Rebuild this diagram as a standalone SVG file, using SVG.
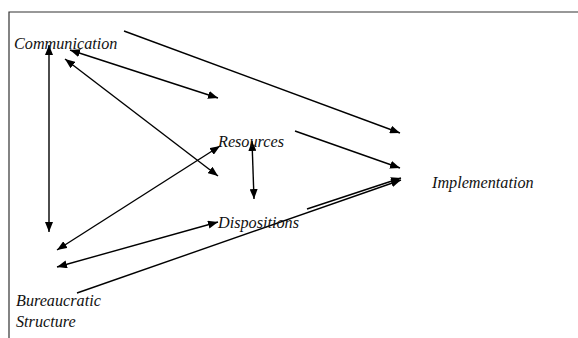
<svg xmlns="http://www.w3.org/2000/svg" width="578" height="338" viewBox="0 0 578 338">
<defs>
<style>
.lbl{font-family:"Liberation Serif","Times New Roman",serif;font-style:italic;font-size:16.2px;fill:#111;}
.ln{stroke:#000;stroke-width:1.4;fill:none;}
.a1{marker-end:url(#ah);}
.a2{marker-start:url(#ah);marker-end:url(#ah);}
</style>
<marker id="ah" viewBox="0 0 10 8" refX="10" refY="4" markerWidth="10" markerHeight="8" markerUnits="userSpaceOnUse" orient="auto-start-reverse">
<path d="M0,0 L10,4 L0,8 z" fill="#000"/>
</marker>
</defs>
<rect width="578" height="338" fill="#fff"/>
<g id="frame">
<path d="M9,338 V12 H578" stroke="#333" stroke-width="1.2" fill="none"/>
</g>
<g id="connectors">
<line class="ln a1" x1="124" y1="31" x2="400" y2="133"/>
<line class="ln a2" x1="70" y1="50" x2="218" y2="98"/>
<line class="ln a2" x1="49" y1="45" x2="49" y2="232"/>
<line class="ln a2" x1="65" y1="59" x2="218" y2="176"/>
<line class="ln a2" x1="57" y1="250" x2="220" y2="146"/>
<line class="ln a2" x1="252" y1="141" x2="254" y2="199"/>
<line class="ln a1" x1="295" y1="131" x2="400" y2="168"/>
<line class="ln a1" x1="307" y1="209" x2="401" y2="178"/>
<line class="ln a1" x1="77" y1="293" x2="401" y2="180"/>
<line class="ln a2" x1="57" y1="267" x2="218" y2="222"/>
</g>
<g id="communication"><text class="lbl" x="14" y="49">Communication</text></g>
<g id="resources"><text class="lbl" x="218" y="147">Resources</text></g>
<g id="dispositions"><text class="lbl" x="218" y="228">Dispositions</text></g>
<g id="implementation"><text class="lbl" x="432" y="188">Implementation</text></g>
<g id="bureaucratic-structure"><text class="lbl" x="16" y="306">Bureaucratic</text><text class="lbl" x="16" y="327">Structure</text></g>
</svg>
